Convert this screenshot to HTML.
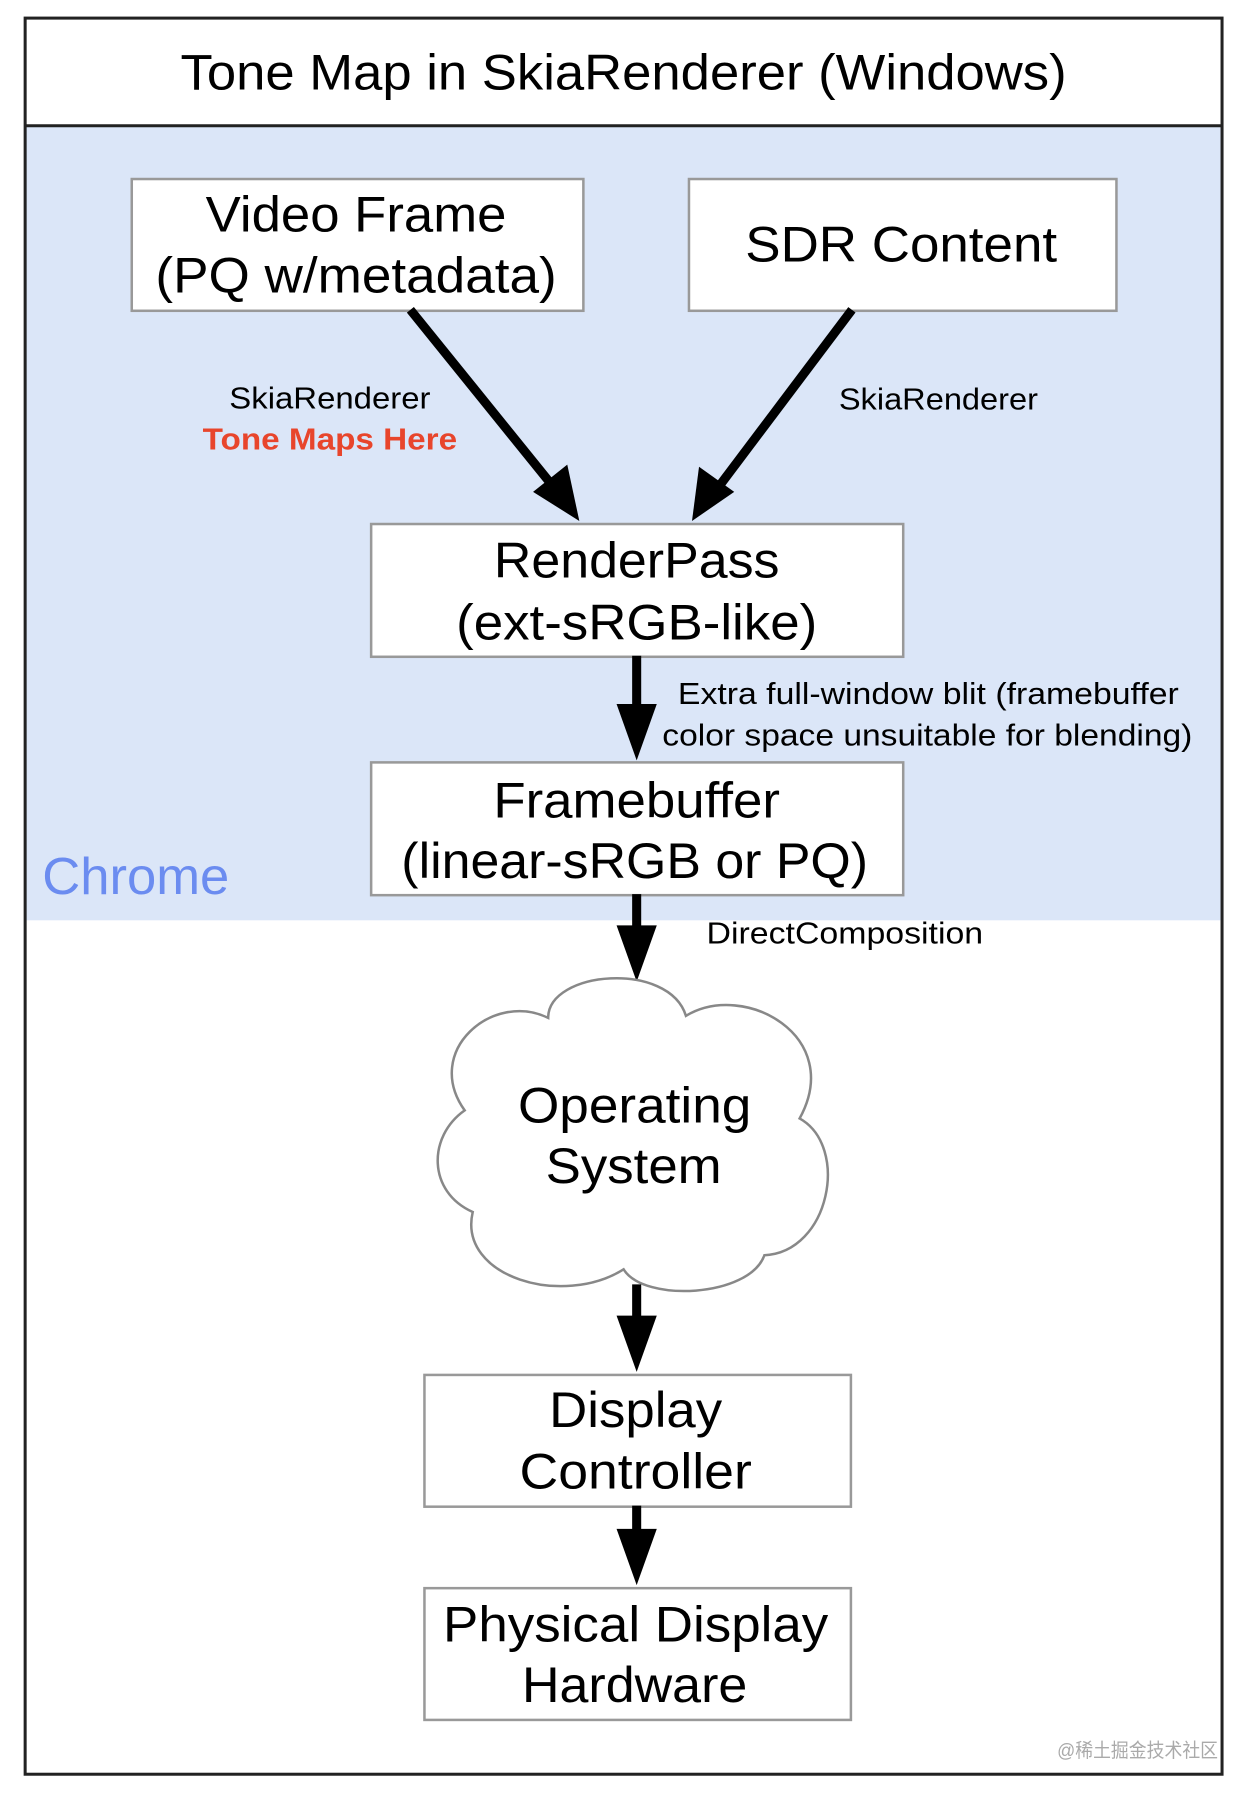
<!DOCTYPE html>
<html><head><meta charset="utf-8"><style>
html,body{margin:0;padding:0;background:#fff;}
svg{display:block;}
text{font-family:"Liberation Sans","Noto Sans CJK SC",sans-serif;}
</style></head><body>
<svg width="1254" height="1798" viewBox="0 0 1254 1798" xmlns="http://www.w3.org/2000/svg">
<rect x="0" y="0" width="1254" height="1798" fill="#fff"/>
<g transform="scale(1.0058)">
<rect x="25" y="125" width="1190" height="790" fill="#dbe6f8"/>
<rect x="25" y="18" width="1190" height="1746" fill="none" stroke="#222" stroke-width="3"/>
<line x1="25" y1="125" x2="1215" y2="125" stroke="#222" stroke-width="3"/>
<text x="620" y="89" font-size="50" text-anchor="middle" textLength="881" lengthAdjust="spacingAndGlyphs">Tone Map in SkiaRenderer (Windows)</text>

<rect x="131" y="178" width="449" height="131" fill="#fff" stroke="#999" stroke-width="2.5"/>
<text x="354" y="230" font-size="50" text-anchor="middle" textLength="299" lengthAdjust="spacingAndGlyphs">Video Frame</text>
<text x="354" y="291" font-size="50" text-anchor="middle" textLength="399" lengthAdjust="spacingAndGlyphs">(PQ w/metadata)</text>

<rect x="685" y="178" width="425" height="131" fill="#fff" stroke="#999" stroke-width="2.5"/>
<text x="896" y="260" font-size="50" text-anchor="middle" textLength="310" lengthAdjust="spacingAndGlyphs">SDR Content</text>

<line x1="408" y1="308" x2="555" y2="490" stroke="#000" stroke-width="9"/>
<polygon points="576,518 530,489 564,462" fill="#000"/>
<line x1="847" y1="308" x2="710" y2="490" stroke="#000" stroke-width="9"/>
<polygon points="688,518 695,464 730,489" fill="#000"/>

<text x="328" y="406" font-size="30" text-anchor="middle" textLength="200" lengthAdjust="spacingAndGlyphs">SkiaRenderer</text>
<text x="328" y="447" font-size="30" font-weight="bold" fill="#e8452c" text-anchor="middle" textLength="253" lengthAdjust="spacingAndGlyphs">Tone Maps Here</text>
<text x="933" y="407" font-size="30" text-anchor="middle" textLength="198" lengthAdjust="spacingAndGlyphs">SkiaRenderer</text>

<rect x="369" y="521" width="529" height="132" fill="#fff" stroke="#999" stroke-width="2.5"/>
<text x="633" y="574" font-size="50" text-anchor="middle" textLength="284" lengthAdjust="spacingAndGlyphs">RenderPass</text>
<text x="633" y="636" font-size="50" text-anchor="middle" textLength="359" lengthAdjust="spacingAndGlyphs">(ext-sRGB-like)</text>

<line x1="633" y1="652" x2="633" y2="705" stroke="#000" stroke-width="9"/>
<polygon points="613,700 653,700 633,756" fill="#000"/>
<text x="923" y="700" font-size="30" text-anchor="middle" textLength="498" lengthAdjust="spacingAndGlyphs">Extra full-window blit (framebuffer</text>
<text x="922" y="741" font-size="30" text-anchor="middle" textLength="527" lengthAdjust="spacingAndGlyphs">color space unsuitable for blending)</text>

<rect x="369" y="758" width="529" height="132" fill="#fff" stroke="#999" stroke-width="2.5"/>
<text x="633" y="813" font-size="50" text-anchor="middle" textLength="285" lengthAdjust="spacingAndGlyphs">Framebuffer</text>
<text x="631" y="873" font-size="50" text-anchor="middle" textLength="464" lengthAdjust="spacingAndGlyphs">(linear-sRGB or PQ)</text>

<text x="42" y="889" font-size="52" fill="#6b8cf0" textLength="186" lengthAdjust="spacingAndGlyphs">Chrome</text>

<line x1="633" y1="889" x2="633" y2="925" stroke="#000" stroke-width="9"/>
<polygon points="613,920 653,920 633,976" fill="#000"/>
<text x="840" y="938" font-size="30" text-anchor="middle" textLength="275" lengthAdjust="spacingAndGlyphs">DirectComposition</text>

<path d="M545,1012 C545,965 665,955 682,1010 C740,975 840,1030 795,1112 C845,1140 825,1245 760,1248 C745,1290 640,1295 620,1262 C560,1300 455,1270 470,1205 C425,1185 425,1130 462,1104 C420,1045 490,985 545,1012 Z" fill="#fff" stroke="#888" stroke-width="2.5"/>
<text x="631" y="1116" font-size="50" text-anchor="middle" textLength="232" lengthAdjust="spacingAndGlyphs">Operating</text>
<text x="630" y="1176" font-size="50" text-anchor="middle" textLength="175" lengthAdjust="spacingAndGlyphs">System</text>

<line x1="633" y1="1277" x2="633" y2="1312" stroke="#000" stroke-width="9"/>
<polygon points="613,1308 653,1308 633,1364" fill="#000"/>

<rect x="422" y="1367" width="424" height="131" fill="#fff" stroke="#999" stroke-width="2.5"/>
<text x="632" y="1419" font-size="50" text-anchor="middle" textLength="172" lengthAdjust="spacingAndGlyphs">Display</text>
<text x="632" y="1480" font-size="50" text-anchor="middle" textLength="231" lengthAdjust="spacingAndGlyphs">Controller</text>

<line x1="633" y1="1497" x2="633" y2="1525" stroke="#000" stroke-width="9"/>
<polygon points="613,1520 653,1520 633,1576" fill="#000"/>

<rect x="422" y="1579" width="424" height="131" fill="#fff" stroke="#999" stroke-width="2.5"/>
<text x="632" y="1632" font-size="50" text-anchor="middle" textLength="383" lengthAdjust="spacingAndGlyphs">Physical Display</text>
<text x="631" y="1692" font-size="50" text-anchor="middle" textLength="224" lengthAdjust="spacingAndGlyphs">Hardware</text>

<text x="1131" y="1747" font-size="19" fill="#aaa" text-anchor="middle" textLength="160" lengthAdjust="spacingAndGlyphs">@稀土掘金技术社区</text>
</g>
</svg>
</body></html>
